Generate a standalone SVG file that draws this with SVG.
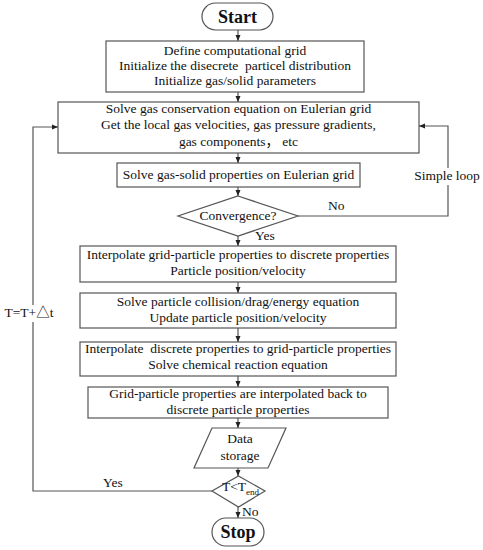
<svg xmlns="http://www.w3.org/2000/svg" width="483" height="550" viewBox="0 0 483 550">
<defs>
<style>
.b{fill:#fff;stroke:#555;stroke-width:1.2}
.t{font-family:"Liberation Serif","Noto Sans CJK SC",serif;font-size:13.5px;fill:#111;text-anchor:middle}
.l{font-family:"Liberation Serif","Noto Sans CJK SC",serif;font-size:13.5px;fill:#111}
.h{font-family:"Liberation Serif",serif;font-size:18px;font-weight:bold;fill:#111;text-anchor:middle}
.c{fill:none;stroke:#555;stroke-width:1.2}
</style>
<marker id="a" markerWidth="6" markerHeight="6" refX="6" refY="3" orient="auto" markerUnits="userSpaceOnUse">
<path d="M0,0.5 L6,3 L0,5.5 Z" fill="#222"/>
</marker>
</defs>
<rect width="483" height="550" fill="#fff"/>
<g id="connectors">
<path class="c" d="M238,30 V41" marker-end="url(#a)"/>
<path class="c" d="M238,92 V102" marker-end="url(#a)"/>
<path class="c" d="M238,153 V163" marker-end="url(#a)"/>
<path class="c" d="M238,187 V196" marker-end="url(#a)"/>
<path class="c" d="M238,236 V246" marker-end="url(#a)"/>
<path class="c" d="M238,282 V293" marker-end="url(#a)"/>
<path class="c" d="M238,328 V342" marker-end="url(#a)"/>
<path class="c" d="M238,376 V387" marker-end="url(#a)"/>
<path class="c" d="M238,418 V428" marker-end="url(#a)"/>
<path class="c" d="M238,468 V476" marker-end="url(#a)"/>
<path class="c" d="M238,507 V518" marker-end="url(#a)"/>
<path class="c" d="M298,216 H448 V126 H419" marker-end="url(#a)"/>
<path class="c" d="M212,491 H33 V127 H58" marker-end="url(#a)"/>
<rect x="414" y="168" width="68" height="17" fill="#fff"/>
<text class="t" x="447" y="180">Simple loop</text>
<rect x="4" y="305" width="52" height="17" fill="#fff"/>
<text class="t" x="29" y="317">T=T+△t</text>
<text class="l" x="328" y="210">No</text>
<text class="l" x="255" y="240">Yes</text>
<text class="l" x="103" y="487">Yes</text>
<text class="l" x="242" y="516">No</text>
</g>
<g id="start">
<rect class="b" x="202" y="3" width="71" height="27" rx="13.5"/>
<text class="h" x="237.5" y="23">Start</text>
</g>
<g id="init">
<rect class="b" x="106" y="41" width="258" height="51"/>
<text class="t" x="235" y="55">Define computational grid</text>
<text class="t" x="235" y="70" style="white-space:pre">Initialize the disecrete  particel distribution</text>
<text class="t" x="235" y="85">Initialize gas/solid parameters</text>
</g>
<g id="gas">
<rect class="b" x="58" y="102" width="361" height="51"/>
<text class="t" x="238.5" y="113">Solve gas conservation equation on Eulerian grid</text>
<text class="t" x="238.5" y="129">Get the local gas velocities, gas pressure gradients,</text>
<text class="t" x="238.5" y="146" style="white-space:pre">gas components， etc</text>
</g>
<g id="gassolid">
<rect class="b" x="117" y="163" width="243" height="24"/>
<text class="t" x="238.5" y="179">Solve gas-solid properties on Eulerian grid</text>
</g>
<g id="convergence">
<polygon class="b" points="238,196 298,216 238,236 178,216"/>
<text class="t" x="238" y="220">Convergence?</text>
</g>
<g id="interp1">
<rect class="b" x="80" y="246" width="316" height="36"/>
<text class="t" x="238" y="259">Interpolate grid-particle properties to discrete properties</text>
<text class="t" x="238" y="275">Particle position/velocity</text>
</g>
<g id="collision">
<rect class="b" x="80" y="293" width="316" height="35"/>
<text class="t" x="238" y="306">Solve particle collision/drag/energy equation</text>
<text class="t" x="238" y="322">Update particle position/velocity</text>
</g>
<g id="interp2">
<rect class="b" x="80" y="342" width="316" height="34"/>
<text class="t" x="238" y="353" style="white-space:pre">Interpolate  discrete properties to grid-particle properties</text>
<text class="t" x="238" y="369">Solve chemical reaction equation</text>
</g>
<g id="back">
<rect class="b" x="88" y="387" width="300" height="31"/>
<text class="t" x="238" y="398">Grid-particle properties are interpolated back to</text>
<text class="t" x="238" y="414">discrete particle properties</text>
</g>
<g id="storage">
<polygon class="b" points="212,428 286,428 268,468 194,468"/>
<text class="t" x="240" y="443">Data</text>
<text class="t" x="240" y="460">storage</text>
</g>
<g id="tend">
<polygon class="b" points="238.5,476 265,491 238.5,507 212,491"/>
<text class="l" x="222" y="491">T&lt;T<tspan font-size="9" dy="4">end</tspan></text>
</g>
<g id="stop">
<rect class="b" x="212" y="518" width="52" height="28" rx="14"/>
<text class="h" x="238" y="538">Stop</text>
</g>
</svg>
